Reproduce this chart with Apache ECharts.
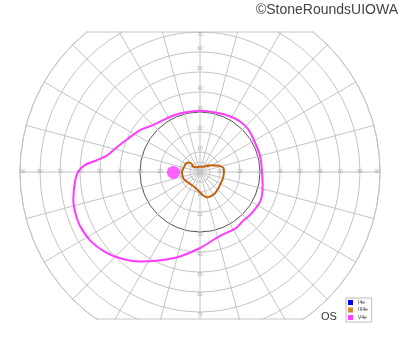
<!DOCTYPE html>
<html><head><meta charset="utf-8">
<script src="https://cdn.jsdelivr.net/npm/echarts@6/dist/echarts.min.js"></script>
<style>html,body{margin:0;padding:0;background:#fff}#c{width:400px;height:352px}</style>
</head><body><div id="c"></div>
<script>
// ---- data (degrees of visual field; angle counter-clockwise from right) ----
const seriesNames = ['I4e', 'III4e', 'V4e'];
const horizLabels = [10, 20, 30, 40, 50, 60, 70, 80, 90];
const vertLabels = [10, 20, 30, 40, 50, 60, 70];
const i4eAngles = [];
const i4eRadii = [];
const iii4eAngles = [0, 9.7, 17.5, 23.4, 33.8, 58, 90, 125, 141.6, 136, 139, 148, 161, 180, 200.7, 212.7, 237.4, 256, 268, 276.7, 284.8, 292, 305, 318.3, 331.4, 344.7, 360];
const iii4eRadii  = [12, 11.9, 10.2, 8.2, 6, 3.1, 2.7, 2.9, 4.3, 5.8, 7.3, 8.2, 8.3, 9, 8.9, 8.3, 7.7, 8.4, 9.85, 11.6, 13.1, 13.3, 13, 12.3, 11.8, 11.9, 12];
const v4eAngles = [0, 15, 32, 42, 52, 62, 74, 90, 106, 115, 125, 135, 145, 156, 161, 167, 170, 173.5, 176.5, 180, 184, 192.5, 198, 204, 212, 220, 228, 236, 246, 257, 270, 287, 302.7, 310, 321, 335, 348, 360];
const v4eRadii  = [31, 31.1, 31.4, 32.2, 32.2, 31.6, 30.8, 30.6, 30.8, 31.2, 31.8, 33.2, 36.6, 40, 42.2, 45.3, 47.3, 52, 57.6, 61, 62.6, 64.9, 65.6, 65.8, 64.7, 62.1, 58.4, 54, 48.3, 43.2, 38, 33.5, 33.3, 32.6, 33, 33.5, 32, 31];
const blindSpot = [13.3, 181];

// ---- layout ----
const CX = 200, CY = 172, R = 180, MAXDEG = 90;
const PXDEG = R / MAXDEG;
const TOPDEG = 70, BOTDEG = 73.5;
const GRID = '#c4c4c4';
const COLORS = {I4e: '#0000ff', III4e: '#c2600e', V4e: '#ff3cff'};
const LEGENDCOLORS = {I4e: '#0000ff', III4e: '#d4883c', V4e: '#ff3cff'};

const zip = (a, r) => a.map((v, i) => [r[i], v]);

const ringColors = [];
for (let d = 0; d <= MAXDEG; d += 10) ringColors.push(d === 30 ? '#555' : GRID);

const labelData = [];
horizLabels.forEach(v => {
  labelData.push({value: [v, 0], label: {offset: [v === 90 ? -3 : 0, 0]}});
  labelData.push({value: [v, 180], label: {offset: [v === 90 ? 3 : 0, 0]}});
});
vertLabels.forEach(v => {
  labelData.push({value: [v, 90], label: {offset: [0, v === 70 ? 3 : -3]}});
  labelData.push({value: [v, 270], label: {offset: [0, 3]}});
});

const topY = CY - TOPDEG * PXDEG, botY = CY + BOTDEG * PXDEG;
const topHalf = Math.sqrt(R * R - (CY - topY) ** 2);
const botHalf = Math.sqrt(R * R - (botY - CY) ** 2);

const chart = echarts.init(document.getElementById('c'), null, {renderer: 'canvas'});
chart.setOption({
  animation: false,
  backgroundColor: '#fff',
  polar: {center: [CX, CY], radius: R},
  radiusAxis: {
    min: 0, max: MAXDEG, interval: 10,
    axisLine: {show: false}, axisTick: {show: false}, axisLabel: {show: false},
    splitLine: {show: true, lineStyle: {color: ringColors, width: 1}}
  },
  angleAxis: {
    type: 'value', min: 0, max: 360, interval: 15, startAngle: 0, clockwise: false,
    axisLine: {show: true, lineStyle: {color: GRID}}, axisTick: {show: false}, axisLabel: {show: false},
    splitLine: {show: true, lineStyle: {color: GRID, width: 1}}
  },
  legend: {
    orient: 'vertical', left: 346, top: 298, padding: [2, 4, 2, 2], itemGap: 2.5,
    itemWidth: 5, itemHeight: 5, icon: 'rect',
    borderColor: '#bbb', borderWidth: 1, backgroundColor: '#fff',
    textStyle: {fontSize: 5, color: '#333', fontFamily: 'Liberation Sans'},
    data: seriesNames.map(n => ({name: n, itemStyle: {color: LEGENDCOLORS[n]}}))
  },
  graphic: [
    {type: 'rect', z: 1, shape: {x: 0, y: 0, width: 400, height: topY - 0.5}, style: {fill: '#fff'}},
    {type: 'rect', z: 1, shape: {x: 0, y: botY + 0.5, width: 400, height: 352 - botY}, style: {fill: '#fff'}},
    {type: 'line', z: 2, shape: {x1: CX - topHalf, y1: topY, x2: CX + topHalf, y2: topY}, style: {stroke: GRID, lineWidth: 1}},
    {type: 'line', z: 2, shape: {x1: CX - botHalf, y1: botY, x2: CX + botHalf, y2: botY}, style: {stroke: GRID, lineWidth: 1}},
    {type: 'circle', z: 1, shape: {cx: CX, cy: CY, r: 5 * PXDEG}, style: {fill: 'none', stroke: GRID, lineWidth: 1}},
    {type: 'text', z: 10, right: 2, top: 3, style: {text: '\u00A9StoneRoundsUIOWA', fontSize: 14, fontFamily: 'Liberation Sans', fill: '#444'}},
    {type: 'text', z: 10, left: 321, top: 311, style: {text: 'OS', fontSize: 11, fontFamily: 'Liberation Sans', fill: '#333'}}
  ],
  series: [
    {name: 'I4e', type: 'line', coordinateSystem: 'polar', data: zip(i4eAngles, i4eRadii), symbol: 'none', itemStyle: {color: COLORS.I4e}, lineStyle: {color: COLORS.I4e, width: 2}, z: 5},
    {name: 'III4e', type: 'line', coordinateSystem: 'polar', data: zip(iii4eAngles, iii4eRadii), symbol: 'none', smooth: 0.3, itemStyle: {color: COLORS.III4e}, lineStyle: {color: COLORS.III4e, width: 2}, z: 5},
    {name: 'V4e', type: 'line', coordinateSystem: 'polar', data: zip(v4eAngles, v4eRadii), symbol: 'none', smooth: 0.3, itemStyle: {color: COLORS.V4e}, lineStyle: {color: COLORS.V4e, width: 2}, z: 5},
    {name: 'V4e', type: 'scatter', coordinateSystem: 'polar', data: [blindSpot], symbol: 'circle', symbolSize: 13, itemStyle: {color: COLORS.V4e}, z: 5},
    {name: 'ticks', type: 'scatter', coordinateSystem: 'polar', data: labelData, symbolSize: 1, silent: true,
     itemStyle: {color: 'rgba(0,0,0,0)'}, z: 4,
     label: {show: true, position: 'inside', fontSize: 5, color: '#999', fontFamily: 'Liberation Sans', formatter: p => String(p.value[0])}}
  ]
});
</script></body></html>
